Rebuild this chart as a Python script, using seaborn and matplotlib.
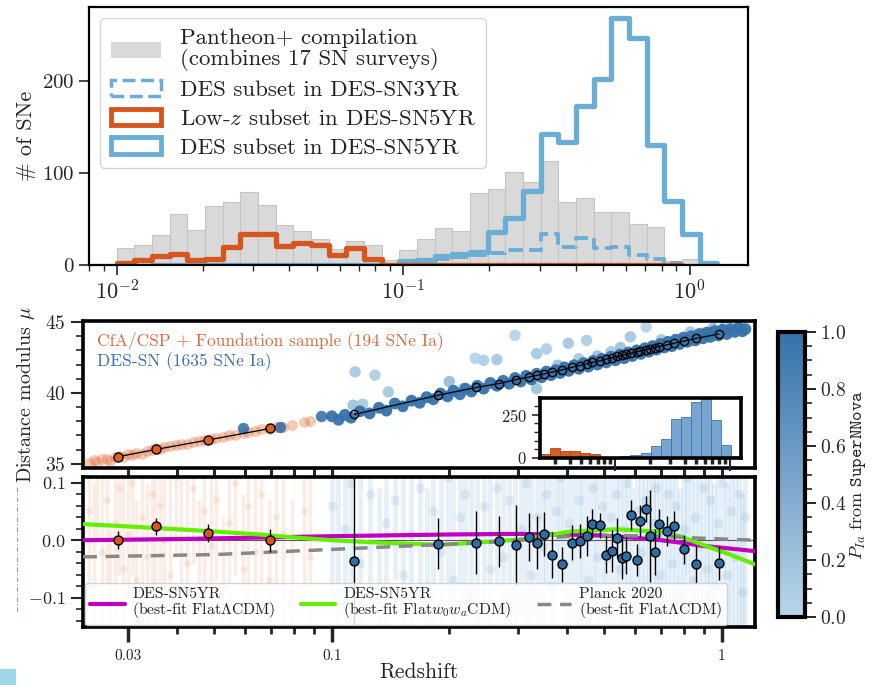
import numpy as np
import matplotlib
matplotlib.use("Agg")
import matplotlib.pyplot as plt
import matplotlib.ticker as mticker
from matplotlib.colors import LinearSegmentedColormap, Normalize
from matplotlib.patches import Patch, Rectangle
from matplotlib.lines import Line2D
import seaborn as sns

sns.set_style("ticks")
plt.rcParams["font.family"] = "serif"
plt.rcParams["font.serif"] = ["cmr10", "DejaVu Serif"]
plt.rcParams["mathtext.fontset"] = "cm"
plt.rcParams["axes.formatter.use_mathtext"] = True
plt.rcParams["text.color"] = "#222222"

# ---------------- top panel: redshift histograms (log bins, 34 bins from 0.01 to 1.25)
top_zmin, top_zmax, top_nbins = 0.01, 1.25, 34
pantheon_counts = [18, 22, 33, 55, 38, 64, 68, 79, 65, 43, 37, 28, 17, 26, 22, 5,
                   16, 28, 40, 37, 78, 83, 101, 90, 113, 68, 73, 57, 57, 45, 41, 4, 6, 0]
lowz5_first_bin = 0
lowz5_counts = [2, 5, 10, 12, 5, 7, 19, 34, 34, 21, 24, 22, 11, 18, 7, 0,
                0, 0, 0, 0, 0, 0, 0, 0, 0, 0, 0, 0, 0, 0, 0, 0]
des5_first_bin = 2
des5_counts = [0, 0, 0, 0, 0, 0, 0, 0, 0, 0, 0, 0, 0, 0,
               4, 5, 10, 12, 14, 36, 51, 80, 142, 134, 173, 202, 268, 246, 130, 69, 34, 2]
des3_first_bin = 18
des3_counts = [7, 9, 11, 13, 16, 16, 34, 20, 29, 18, 20, 11, 6, 2]

# ---------------- inset histogram (20 log bins from 0.0221 to 1.24)
inset_zmin, inset_zmax, inset_nbins = 0.0221, 1.24, 20
inset_lowz_first_bin = 0
inset_lowz_counts = [23, 58, 38, 38, 29, 23]
inset_des_first_bin = 8
inset_des_counts = [10, 19, 29, 71, 110, 225, 235, 323, 337, 217, 77, 10]

# ---------------- Hubble diagram: individual SNe (read approximately)
z_lowz = [0.0238, 0.0245, 0.0250, 0.0258, 0.0265, 0.0270, 0.0278, 0.0285, 0.0292, 0.0300,
          0.0308, 0.0315, 0.0325, 0.0335, 0.0345, 0.0352, 0.0362, 0.0372, 0.0385, 0.0398,
          0.0410, 0.0425, 0.0440, 0.0455, 0.0470, 0.0490, 0.0505, 0.0525, 0.0545, 0.0565,
          0.0590, 0.0610, 0.0635, 0.0660, 0.0690, 0.0720, 0.0750, 0.0790, 0.0850, 0.0880]
mu_lowz = [35.08, 35.25, 35.12, 35.30, 35.36, 35.22, 35.45, 35.58, 35.48, 35.66,
           35.60, 35.78, 35.72, 35.90, 35.95, 36.08, 36.02, 36.15, 36.22, 36.30,
           36.38, 36.42, 36.55, 36.58, 36.66, 36.72, 36.85, 36.88, 37.00, 37.05,
           37.18, 37.24, 37.30, 37.42, 37.48, 37.60, 37.62, 37.72, 37.95, 38.02]
resid_lowz = [0.05, -0.08, 0.12, -0.02, 0.07, -0.11, 0.03, 0.09, -0.05, 0.01,
              0.10, -0.07, 0.04, -0.03, 0.08, -0.09, 0.06, 0.00, -0.06, 0.11,
              0.02, -0.04, 0.09, -0.10, 0.05, -0.01, 0.07, -0.08, 0.03, 0.10,
              -0.05, 0.06, -0.02, 0.08, -0.07, 0.04, 0.01, -0.09, 0.05, -0.03]
err_lowz = [0.14, 0.18, 0.12, 0.16, 0.20, 0.13, 0.17, 0.15, 0.19, 0.12,
            0.16, 0.14, 0.18, 0.13, 0.17, 0.20, 0.15, 0.12, 0.18, 0.14,
            0.16, 0.19, 0.13, 0.17, 0.15, 0.20, 0.14, 0.12, 0.18, 0.16,
            0.13, 0.19, 0.15, 0.17, 0.14, 0.12, 0.20, 0.16, 0.18, 0.15]

z_des_tail = [0.0593, 0.0737, 0.0936]
mu_des_tail = [37.49, 37.60, 38.35]

z_des = [0.100, 0.104, 0.108, 0.112, 0.118, 0.125, 0.132, 0.138, 0.145, 0.152,
         0.160, 0.168, 0.175, 0.182, 0.190, 0.198, 0.205, 0.213, 0.220, 0.228,
         0.236, 0.245, 0.255, 0.265, 0.275, 0.285, 0.295, 0.305, 0.315, 0.325,
         0.335, 0.345, 0.355, 0.365, 0.375, 0.385, 0.395, 0.405, 0.418, 0.430,
         0.442, 0.455, 0.468, 0.480, 0.493, 0.506, 0.520, 0.534, 0.548, 0.562,
         0.576, 0.590, 0.605, 0.620, 0.635, 0.650, 0.665, 0.680, 0.696, 0.712,
         0.728, 0.745, 0.762, 0.780, 0.798, 0.816, 0.835, 0.855, 0.875, 0.895,
         0.915, 0.935, 0.958, 0.980, 1.005, 1.030, 1.055, 1.080, 1.105, 1.130,
         1.150]
mu_des = [38.35, 38.10, 38.45, 38.25, 38.70, 38.55, 38.95, 38.75, 39.25, 39.05,
          39.45, 39.30, 39.70, 39.55, 39.95, 39.75, 40.15, 39.90, 40.30, 40.10,
          40.50, 40.30, 40.70, 40.50, 40.85, 40.65, 41.05, 40.80, 41.20, 40.95,
          41.35, 41.10, 41.50, 41.25, 41.60, 41.40, 41.80, 41.55, 41.95, 41.70,
          42.10, 41.85, 42.25, 42.00, 42.40, 42.15, 42.55, 42.30, 42.70, 42.45,
          42.85, 42.60, 43.00, 42.75, 43.15, 42.90, 43.30, 43.05, 43.45, 43.20,
          43.60, 43.30, 43.75, 43.45, 43.90, 43.60, 44.00, 43.70, 44.15, 43.85,
          44.25, 43.95, 44.35, 44.05, 44.45, 44.15, 44.50, 44.30, 44.60, 44.35,
          44.50]
resid_des = [0.06, -0.09, 0.02, 0.10, -0.04, 0.08, -0.11, 0.03, 0.07, -0.06,
             0.01, 0.09, -0.08, 0.05, -0.02, 0.11, -0.07, 0.04, 0.08, -0.10,
             0.00, 0.06, -0.05, 0.09, -0.03, 0.07, -0.09, 0.02, 0.10, -0.06,
             0.04, -0.01, 0.08, -0.08, 0.05, 0.11, -0.04, 0.03, -0.10, 0.07,
             0.01, -0.07, 0.09, -0.03, 0.06, -0.11, 0.04, 0.08, -0.05, 0.02,
             0.10, -0.08, 0.05, -0.02, 0.07, -0.09, 0.03, 0.09, -0.06, 0.01,
             0.08, -0.04, 0.06, -0.10, 0.02, 0.11, -0.07, 0.04, -0.01, 0.09,
             -0.05, 0.07, -0.08, 0.03, 0.10, -0.06, 0.05, -0.03, 0.08, -0.09,
             0.04]
err_des = [0.18, 0.25, 0.15, 0.22, 0.28, 0.16, 0.20, 0.24, 0.14, 0.26,
           0.19, 0.23, 0.17, 0.27, 0.15, 0.21, 0.25, 0.18, 0.22, 0.29,
           0.16, 0.20, 0.24, 0.17, 0.26, 0.19, 0.23, 0.15, 0.28, 0.21,
           0.18, 0.25, 0.16, 0.22, 0.27, 0.19, 0.24, 0.17, 0.21, 0.26,
           0.15, 0.23, 0.20, 0.28, 0.18, 0.22, 0.25, 0.16, 0.27, 0.19,
           0.24, 0.17, 0.21, 0.29, 0.15, 0.23, 0.20, 0.26, 0.18, 0.22,
           0.25, 0.16, 0.28, 0.19, 0.24, 0.17, 0.21, 0.27, 0.15, 0.23,
           0.20, 0.26, 0.18, 0.22, 0.29, 0.16, 0.25, 0.19, 0.24, 0.17,
           0.21]

# low-P_Ia DES candidates
z_des_low_p = [0.1134, 0.1147, 0.120, 0.129, 0.1396, 0.200, 0.2175, 0.2333, 0.245, 0.265,
               0.295, 0.335, 0.335, 0.355, 0.380, 0.404, 0.430, 0.450, 0.480, 0.520,
               0.550, 0.583, 0.640, 0.700, 0.830, 0.890, 0.950, 1.020]
mu_des_low_p = [39.13, 41.48, 39.20, 41.25, 40.07, 40.80, 40.30, 42.44, 42.30, 42.35,
                44.06, 42.77, 40.30, 43.10, 41.95, 43.50, 42.40, 43.70, 42.60, 42.90,
                43.20, 43.95, 44.65, 43.75, 44.30, 44.20, 44.55, 44.75]
p_des_low_p = [0.15, 0.10, 0.10, 0.05, 0.10, 0.20, 0.10, 0.00, 0.05, 0.10,
               0.00, 0.10, 0.15, 0.05, 0.20, 0.10, 0.10, 0.05, 0.20, 0.10,
               0.15, 0.10, 0.00, 0.10, 0.10, 0.15, 0.20, 0.10]

# ---------------- binned points
z_bin_lowz = [0.0282, 0.0354, 0.0480, 0.0695]
mu_bin_lowz = [35.49, 36.01, 36.67, 37.49]
res_bin_lowz = [0.000, 0.0245, 0.013, 0.000]
err_bin_lowz = [0.016, 0.015, 0.016, 0.020]

z_bin_des = [0.1143, 0.1877, 0.2344, 0.2685, 0.297, 0.321, 0.336, 0.350, 0.368, 0.390,
             0.4124, 0.4335, 0.451, 0.466, 0.4876, 0.505, 0.524, 0.540, 0.554, 0.568,
             0.586, 0.605, 0.618, 0.640, 0.655, 0.676, 0.692, 0.723, 0.756, 0.800,
             0.858, 0.982]
mu_bin_des = [38.48, 39.84, 40.38, 40.66, 40.94, 41.12, 41.24, 41.34, 41.47, 41.62,
              41.80, 41.93, 42.05, 42.15, 42.27, 42.38, 42.48, 42.57, 42.64, 42.71,
              42.80, 42.89, 42.95, 43.05, 43.12, 43.20, 43.27, 43.39, 43.51, 43.66,
              43.84, 44.15]
res_bin_des = [-0.037, -0.006, -0.004, -0.002, -0.008, 0.005, -0.004, 0.011, -0.025, -0.042,
               -0.004, -0.001, 0.007, 0.029, 0.026, -0.025, -0.019, 0.004, -0.031, -0.027,
               0.044, -0.034, 0.034, 0.054, 0.008, -0.021, 0.029, 0.016, 0.025, -0.016,
               -0.042, -0.040]
err_bin_des = [0.20, 0.044, 0.055, 0.045, 0.07, 0.042, 0.046, 0.038, 0.04, 0.03,
               0.03, 0.03, 0.035, 0.026, 0.022, 0.032, 0.036, 0.035, 0.036, 0.032,
               0.026, 0.028, 0.028, 0.023, 0.08, 0.04, 0.026, 0.026, 0.025, 0.025,
               0.032, 0.03]

# ---------------- model curves (residual w.r.t. reference)
z_lcdm = [0.023, 0.04, 0.07, 0.1, 0.2, 0.3, 0.4, 0.5, 0.6, 0.7, 0.8, 0.9, 1.0, 1.217]
res_lcdm = [0.000, 0.002, 0.005, 0.007, 0.010, 0.011, 0.010, 0.008, 0.004, 0.000,
            -0.005, -0.010, -0.013, -0.019]
z_w0wa = [0.023, 0.03, 0.048, 0.065, 0.083, 0.1, 0.14, 0.19, 0.236, 0.30, 0.342,
          0.408, 0.539, 0.682, 0.782, 0.895, 1.05, 1.217]
res_w0wa = [0.028, 0.024, 0.016, 0.010, 0.004, 0.000, -0.005, -0.008, -0.004, 0.001,
            0.006, 0.015, 0.019, 0.015, 0.007, -0.008, -0.025, -0.042]
z_planck = [0.023, 0.05, 0.1, 0.19, 0.236, 0.32, 0.41, 0.54, 0.7, 0.85, 1.217]
res_planck = [-0.029, -0.025, -0.016, -0.0075, -0.005, 0.001, 0.007, 0.008, 0.007, 0.004, 0.0]

# colours
c_orange = "#d5571f"
c_blue_hist = "#6aaed6"
c_gray = "#d9d9d9"
pia_cmap = LinearSegmentedColormap.from_list("pia", ["#b9d6ea", "#3572aa"])

W, H = 871, 685
fig = plt.figure(figsize=(W / 100, H / 100), dpi=100)


def px_axes(x0, y0, x1, y1, **kw):
    return fig.add_axes([x0 / W, 1 - y1 / H, (x1 - x0) / W, (y1 - y0) / H], **kw)


def log_hist(ax, zmin, zmax, nbins, first_bin, counts, **kw):
    w = (np.log10(zmax) - np.log10(zmin)) / nbins
    a = np.log10(zmin) + first_bin * w
    b = a + len(counts) * w
    centers = 10 ** (a + (np.arange(len(counts)) + 0.5) * w)
    sns.histplot(x=centers, weights=counts, bins=len(counts), binrange=(a, b),
                 log_scale=True, ax=ax, **kw)


ax_top = px_axes(89, 7, 748, 265)
ax_mid = px_axes(83, 321, 755, 468)
ax_bot = px_axes(83, 477, 755, 627)
ax_in = px_axes(540, 398, 741, 458)
cax = px_axes(778, 332, 805, 617)

# ================= top panel
log_hist(ax_top, top_zmin, top_zmax, top_nbins, 0, pantheon_counts, element="bars",
         color=c_gray, edgecolor="#c5c5c5", linewidth=0.8, alpha=1)
log_hist(ax_top, top_zmin, top_zmax, top_nbins, des5_first_bin, des5_counts, element="step",
         fill=False, color=c_blue_hist, linewidth=3.8)
log_hist(ax_top, top_zmin, top_zmax, top_nbins, des3_first_bin, des3_counts, element="step",
         fill=False, color=c_blue_hist, linewidth=2.8, linestyle="--")
log_hist(ax_top, top_zmin, top_zmax, top_nbins, lowz5_first_bin, lowz5_counts, element="step",
         fill=False, color=c_orange, linewidth=3.8)
ax_top.set_xlim(0.008, 1.6)
ax_top.set_ylim(0, 280)
ax_top.set_yticks([0, 100, 200])
ax_top.set_ylabel("# of SNe", fontsize=16)
ax_top.yaxis.set_label_coords(-0.080, 0.5)
ax_top.tick_params(axis="both", which="major", labelsize=15, length=7, width=1.2)
ax_top.tick_params(axis="x", which="major", labelsize=16)
ax_top.tick_params(axis="x", which="minor", length=4, width=1)
for s in ax_top.spines.values():
    s.set_linewidth(1.6)
    s.set_color("k")
    s.set_visible(True)

handles = [Patch(facecolor=c_gray, edgecolor="none"),
           Patch(facecolor="none", edgecolor=c_blue_hist, lw=2.5, ls="--"),
           Patch(facecolor="none", edgecolor=c_orange, lw=3.5),
           Patch(facecolor="none", edgecolor=c_blue_hist, lw=3.5)]
labels = ["Pantheon+ compilation\n(combines 17 SN surveys)", "DES subset in DES-SN3YR",
          "Low-$z$ subset in DES-SN5YR", "DES subset in DES-SN5YR"]
leg_top = ax_top.legend(handles, labels, loc="upper left", fontsize=16.5, handlelength=2.2,
                        handleheight=0.7, handletextpad=0.8, labelspacing=0.38, borderpad=0.45,
                        borderaxespad=0.5)
leg_top.get_texts()[0].set_linespacing(1.0)

# ================= middle panel: Hubble diagram
ax_mid.set_xscale("log")
sns.scatterplot(x=z_lowz, y=mu_lowz, color="#e07440", alpha=0.38, s=62, linewidth=0, ax=ax_mid)
sns.scatterplot(x=z_des_low_p, y=mu_des_low_p, hue=p_des_low_p, palette=pia_cmap,
                hue_norm=(0, 1), s=68, linewidth=0, legend=False, ax=ax_mid)
sns.scatterplot(x=z_des, y=mu_des, hue=[1.0] * len(z_des), palette=pia_cmap,
                hue_norm=(0, 1), s=72, linewidth=0, alpha=0.95, legend=False, ax=ax_mid)
sns.scatterplot(x=z_des_tail, y=mu_des_tail, color="#2f6aa3", s=68, linewidth=0,
                alpha=0.85, ax=ax_mid)
sns.lineplot(x=z_bin_lowz, y=mu_bin_lowz, color="k", lw=0.9, marker="o", markersize=6.5,
             markerfacecolor="#e0601e", markeredgecolor="k", markeredgewidth=1, ax=ax_mid)
sns.lineplot(x=z_bin_des, y=mu_bin_des, color="k", lw=0.9, marker="o", markersize=6,
             markerfacecolor="none", markeredgecolor="k", markeredgewidth=1, ax=ax_mid)
ax_mid.text(0.021, 0.865, "CfA/CSP + Foundation sample (194 SNe Ia)", transform=ax_mid.transAxes,
            color="#d8693f", fontsize=12.5, va="center")
ax_mid.text(0.021, 0.725, "DES-SN (1635 SNe Ia)", transform=ax_mid.transAxes,
            color="#3c70ab", fontsize=12.5, va="center")
ax_mid.set_xlim(0.023, 1.217)
ax_mid.set_ylim(34.7, 45.07)
ax_mid.set_yticks([35, 40, 45])
ax_mid.yaxis.set_minor_locator(mticker.MultipleLocator(1))
ax_mid.set_xticks([0.03, 0.1, 1])
ax_mid.xaxis.set_minor_locator(mticker.LogLocator(base=10, subs=np.arange(2, 10)))
ax_mid.xaxis.set_major_formatter(mticker.NullFormatter())
ax_mid.xaxis.set_minor_formatter(mticker.NullFormatter())
ax_mid.set_ylabel(r"Distance modulus $\mu$", fontsize=14.5)
ax_mid.yaxis.set_label_coords(-0.068, 0.5)
ax_mid.tick_params(axis="y", which="major", labelsize=14, length=9, width=1.5)
ax_mid.tick_params(axis="y", which="minor", length=5, width=1.2)
ax_mid.tick_params(axis="x", which="both", length=6, width=2.2)
for s in ax_mid.spines.values():
    s.set_linewidth(2.6)
    s.set_color("k")
    s.set_visible(True)

# ================= inset histogram
log_hist(ax_in, inset_zmin, inset_zmax, inset_nbins, inset_lowz_first_bin, inset_lowz_counts,
         element="bars", color="#d4541a", edgecolor="#b84510", linewidth=0.6, alpha=0.95)
log_hist(ax_in, inset_zmin, inset_zmax, inset_nbins, inset_des_first_bin, inset_des_counts,
         element="bars", color="#5f95c8", edgecolor="#3f76ad", linewidth=0.6, alpha=0.85)
ax_in.set_xlim(inset_zmin, inset_zmax)
ax_in.set_ylim(0, 345)
ax_in.set_yticks([0, 250])
ax_in.yaxis.set_minor_locator(mticker.MultipleLocator(50))
ax_in.set_xticks([0.1, 1])
ax_in.xaxis.set_minor_locator(mticker.LogLocator(base=10, subs=np.arange(2, 10)))
ax_in.xaxis.set_major_formatter(mticker.NullFormatter())
ax_in.xaxis.set_minor_formatter(mticker.NullFormatter())
ax_in.set_ylabel("")
ax_in.tick_params(axis="y", which="major", labelsize=12, length=6, width=1.2)
ax_in.tick_params(axis="y", which="minor", length=4, width=1)
ax_in.tick_params(axis="x", which="major", length=9, width=1.5)
ax_in.tick_params(axis="x", which="minor", length=4, width=2.5)
for s in ax_in.spines.values():
    s.set_linewidth(2.6)
    s.set_color("k")
    s.set_visible(True)

# ================= bottom panel: residuals
ax_bot.set_xscale("log")
ax_bot.errorbar(z_lowz, resid_lowz, yerr=err_lowz, fmt="o", color="#e8875a", alpha=0.15,
                ms=5, elinewidth=2.5, mew=0, zorder=1)
ax_bot.errorbar(z_des, resid_des, yerr=err_des, fmt="o", color="#5a9fd0", alpha=0.15,
                ms=7, elinewidth=3.5, mew=0, zorder=1)
ax_bot.axhline(0, color="0.35", lw=0.8, zorder=2)
sns.lineplot(x=z_lcdm, y=res_lcdm, color="#c000c0", lw=3,
             label="DES-SN5YR\n(best-fit Flat$\\Lambda$CDM)", ax=ax_bot, zorder=3)
sns.lineplot(x=z_w0wa, y=res_w0wa, color="#66ee00", lw=3,
             label="DES-SN5YR\n(best-fit Flat$w_0w_a$CDM)", ax=ax_bot, zorder=3)
sns.lineplot(x=z_planck, y=res_planck, color="#888888", lw=2.5, linestyle=(0, (4, 2.5)),
             label="Planck 2020\n(best-fit Flat$\\Lambda$CDM)", ax=ax_bot, zorder=3)
ax_bot.errorbar(z_bin_lowz, res_bin_lowz, yerr=err_bin_lowz, fmt="o", mfc="#d9541c", mec="k",
                ecolor="k", elinewidth=1, ms=6.5, mew=1, zorder=5)
ax_bot.errorbar(z_bin_des, res_bin_des, yerr=err_bin_des, fmt="o", mfc="#2e6ca3", mec="k",
                ecolor="k", elinewidth=1, ms=6.5, mew=1, zorder=5)
ax_bot.set_xlim(0.023, 1.217)
ax_bot.set_ylim(-0.151, 0.11)
ax_bot.set_yticks([-0.1, 0.0, 0.1])
ax_bot.yaxis.set_minor_locator(mticker.MultipleLocator(0.02))
ax_bot.set_xticks([0.03, 0.1, 1])
ax_bot.set_xticklabels(["0.03", "0.1", "1"])
ax_bot.xaxis.set_minor_locator(mticker.LogLocator(base=10, subs=np.arange(2, 10)))
ax_bot.xaxis.set_minor_formatter(mticker.NullFormatter())
ax_bot.set_xlabel("Redshift", fontsize=15.5)
ax_bot.xaxis.set_label_coords(0.5, -0.235)
ax_bot.tick_params(axis="y", which="major", labelsize=13, length=9, width=1.5)
ax_bot.tick_params(axis="y", which="minor", length=5, width=1.2)
ax_bot.tick_params(axis="x", which="major", labelsize=11, length=11, width=2.5, pad=5)
ax_bot.tick_params(axis="x", which="minor", length=5, width=2)
for s in ax_bot.spines.values():
    s.set_linewidth(2.6)
    s.set_color("k")
    s.set_visible(True)
leg_bot = ax_bot.legend(loc="lower left", bbox_to_anchor=(0.0, 0.0), ncol=3, fontsize=11.3,
                        handlelength=2.2, handletextpad=0.5, columnspacing=1.6,
                        framealpha=0.85, borderaxespad=0.15, borderpad=0.3, labelspacing=0.2)
for t in leg_bot.get_texts():
    t.set_linespacing(0.9)

# ================= colour bar
sm = plt.cm.ScalarMappable(norm=Normalize(0, 1), cmap=pia_cmap)
cb = fig.colorbar(sm, cax=cax)
cb.outline.set_linewidth(3)
cb.outline.set_edgecolor("k")
cb.set_ticks([0.0, 0.2, 0.4, 0.6, 0.8, 1.0])
cb.ax.yaxis.set_minor_locator(mticker.MultipleLocator(0.05))
cb.ax.tick_params(which="major", labelsize=14, length=8, width=1.4, pad=3)
cb.ax.tick_params(which="minor", length=5, width=1.2)
cb.set_label(r"$P_{Ia}$ from $\mathtt{SuperNNova}$", fontsize=13, labelpad=1)

# small artefacts at the left edge of the reference
fig.add_artist(Rectangle((0, 0), 16 / W, 16 / H, transform=fig.transFigure,
                         facecolor="#9fd6ea", edgecolor="none"))
fig.add_artist(Line2D([17 / W, 17 / W], [1 - 487 / H, 1 - 613 / H], transform=fig.transFigure,
                      color="#8ea0c4", lw=0.8, linestyle=(0, (4, 2, 1, 2))))

fig.savefig("out.png", dpi=100)
